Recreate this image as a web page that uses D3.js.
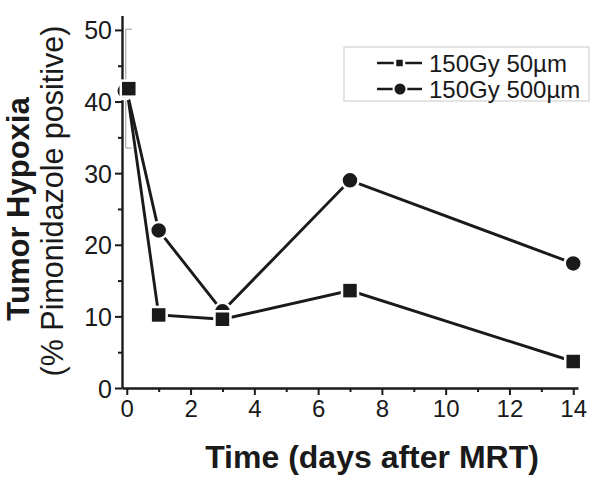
<!DOCTYPE html>
<html><head><meta charset="utf-8">
<script src="https://cdn.jsdelivr.net/npm/d3@7"></script>
<style>body{margin:0;background:#fff}svg{display:block}text{font-family:"Liberation Sans",Arial,sans-serif;fill:#1a1a1a}</style>
</head><body><svg id="c" width="601" height="493"></svg>
<script>
const days = [0, 1, 3, 7, 14];
const seriesNames = ["150Gy 50µm", "150Gy 500µm"];
const val50 = [41.8, 10.2, 9.6, 13.6, 3.7];
const val500 = [41.5, 22.0, 10.7, 29.0, 17.4];
const err50 = [8.3, 0, 0, 0, 0];
const xTicks = [0, 2, 4, 6, 8, 10, 12, 14];
const xMinor = [1, 3, 5, 7, 9, 11, 13];
const yTicks = [0, 10, 20, 30, 40, 50];
const yMinor = [5, 15, 25, 35, 45];

const svg = d3.select("#c");
const ink = "#1a1a1a";
const x = d3.scaleLinear().domain([-0.15, 14.15]).range([122, 578]);
const y = d3.scaleLinear().domain([0, 52]).range([388, 15.6]);

// axes
const yAx = svg.append("g").attr("transform", "translate(122,0)")
  .call(d3.axisLeft(y).tickValues(yTicks).tickSize(7).tickSizeOuter(0).tickPadding(3));
svg.append("g").attr("transform", "translate(122,0)")
  .call(d3.axisLeft(y).tickValues(yMinor).tickSize(4).tickFormat("").tickSizeOuter(0))
  .select(".domain").remove();
const xAx = svg.append("g").attr("transform", "translate(0,388)")
  .call(d3.axisBottom(x).tickValues(xTicks).tickSize(7).tickSizeOuter(0).tickPadding(5));
svg.append("g").attr("transform", "translate(0,388)")
  .call(d3.axisBottom(x).tickValues(xMinor).tickSize(4).tickFormat("").tickSizeOuter(0))
  .select(".domain").remove();
svg.selectAll(".domain").attr("stroke", ink).attr("stroke-width", 2.4);
svg.selectAll(".tick line").attr("stroke", ink).attr("stroke-width", 2);
yAx.selectAll(".tick text").style("font-size", "25px").attr("fill", ink).attr("dy", "0.36em");
xAx.selectAll(".tick text").style("font-size", "24px").attr("fill", ink);

// axis titles
svg.append("text").attr("x", 372).attr("y", 468).attr("text-anchor", "middle")
  .style("font-size", "32px").style("font-weight", "bold").text("Time (days after MRT)");
svg.append("text").attr("transform", "translate(29,209) rotate(-90)").attr("text-anchor", "middle")
  .style("font-size", "31px").style("font-weight", "bold").text("Tumor Hypoxia");
svg.append("text").attr("transform", "translate(63,201) rotate(-90)").attr("text-anchor", "middle")
  .style("font-size", "30.5px").text("(% Pimonidazole positive)");

// error bars
days.forEach((d, i) => {
  if (err50[i] > 0) {
    const g = svg.append("g").attr("stroke", "#999").attr("stroke-width", 1);
    const cx = x(d) - 1;
    g.append("line").attr("x1", cx).attr("x2", cx).attr("y1", y(val50[i] + err50[i])).attr("y2", y(val50[i] - err50[i]));
    g.append("line").attr("x1", cx).attr("x2", cx + 6).attr("y1", y(val50[i] + err50[i])).attr("y2", y(val50[i] + err50[i]));
    g.append("line").attr("x1", cx).attr("x2", cx + 6).attr("y1", y(val50[i] - err50[i])).attr("y2", y(val50[i] - err50[i]));
  }
});

// lines
const line = d3.line().x((d, i) => x(days[i])).y(d => y(d));
[val50, val500].forEach(v => {
  svg.append("path").datum(v).attr("d", line).attr("fill", "none")
    .attr("stroke", ink).attr("stroke-width", 2.9);
});

// markers
svg.selectAll(".circ").data(val500).enter().append("circle")
  .attr("cx", (d, i) => x(days[i]) - (i === 0 ? 2 : 0)).attr("cy", d => y(d)).attr("r", 8.5)
  .attr("fill", ink).attr("stroke", "#fff").attr("stroke-width", 2.5);
svg.selectAll(".sq").data(val50).enter().append("rect")
  .attr("x", (d, i) => x(days[i]) - 8 + (i === 0 ? 2 : 0)).attr("y", d => y(d) - 8)
  .attr("width", 16).attr("height", 16)
  .attr("fill", ink).attr("stroke", "#fff").attr("stroke-width", 2.5);

// legend
const lg = svg.append("g");
lg.append("rect").attr("x", 344).attr("y", 47).attr("width", 245).attr("height", 54)
  .attr("fill", "#fff").attr("stroke", "#c8c8c8").attr("stroke-width", 1);
const rows = [63, 89];
seriesNames.forEach((name, i) => {
  const ry = rows[i];
  lg.append("line").attr("x1", 377).attr("x2", 422).attr("y1", ry).attr("y2", ry)
    .attr("stroke", ink).attr("stroke-width", 2.5);
  if (i === 0) {
    lg.append("rect").attr("x", 395).attr("y", ry - 4.5).attr("width", 9).attr("height", 9)
      .attr("fill", ink).attr("stroke", "#fff").attr("stroke-width", 2.5);
  } else {
    lg.append("circle").attr("cx", 400).attr("cy", ry).attr("r", 6.5)
      .attr("fill", ink).attr("stroke", "#fff").attr("stroke-width", 2);
  }
  lg.append("text").attr("x", 429).attr("y", ry + 8.5).style("font-size", "24px").text(name);
});
</script></body></html>
